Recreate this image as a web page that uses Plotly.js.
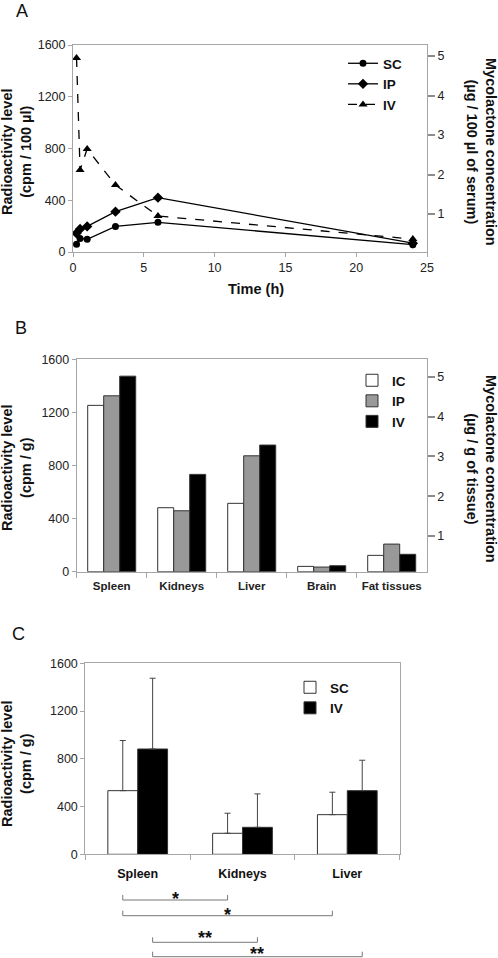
<!DOCTYPE html>
<html>
<head>
<meta charset="utf-8">
<script src="https://cdn.plot.ly/plotly-3.0.1.min.js"></script>
<style>
  html, body { margin: 0; padding: 0; background: #fff; }
  #chart { width: 498px; height: 958px; }
</style>
</head>
<body>
<div id="chart"></div>
<script>
// ---------- Panel A data ----------
const timeH = [0.25, 0.5, 1, 3, 6, 24];
const scSerum = [60, 105, 98, 198, 229, 57];
const ipSerum = [145, 178, 198, 312, 420, 68];
const ivSerum = [1500, 634, 796, 518, 278, 100];

// ---------- Panel B data ----------
const organsB = ["Spleen", "Kidneys", "Liver", "Brain", "Fat tissues"];
const icTissue = [1253, 482, 515, 40, 123];
const ipTissue = [1325, 459, 873, 35, 208];
const ivTissue = [1473, 733, 954, 45, 131];

// ---------- Panel C data ----------
const organsC = ["Spleen", "Kidneys", "Liver"];
const scMean = [533, 176, 332];
const scErr = [420, 168, 188];
const ivMean = [882, 226, 533];
const ivErr = [593, 280, 255];

// significance pairs: [series, fromOrganIndex, toOrganIndex, label]
const sigSeries = ["SC", "SC", "IV", "IV"];
const sigFrom = [0, 0, 0, 0];
const sigTo = [1, 2, 1, 2];
const sigLabel = ["*", "*", "**", "**"];

const FONT = "Liberation Sans, Arial, sans-serif";
const W = 498, H = 958;
const px = v => v / W;
const py = v => 1 - v / H;

const frameCol = "#a6a6a6";
const tickFont = {family: FONT, size: 12.5, color: "#222"};

const bargapC = 0.43;
const barW = (1 - bargapC) / 2;
const offs = {SC: -barW / 2, IV: barW / 2};

const traces = [
  {x: timeH, y: scSerum, name: "SC", type: "scatter", mode: "lines+markers",
   xaxis: "x", yaxis: "y", legend: "legend",
   line: {color: "#000", width: 1.3}, marker: {symbol: "circle", size: 7, color: "#000"}},
  {x: timeH, y: ipSerum, name: "IP", type: "scatter", mode: "lines+markers",
   xaxis: "x", yaxis: "y", legend: "legend",
   line: {color: "#000", width: 1.3}, marker: {symbol: "diamond", size: 8, color: "#000"}},
  {x: timeH, y: ivSerum, name: "IV", type: "scatter", mode: "lines+markers",
   xaxis: "x", yaxis: "y", legend: "legend",
   line: {color: "#000", width: 1.3, dash: "dash"}, marker: {symbol: "triangle-up", size: 8, color: "#000"}},
  // empty helper traces so the secondary (mycolactone) axes are drawn
  {x: [], y: [], type: "scatter", xaxis: "x", yaxis: "y2", showlegend: false, hoverinfo: "skip"},

  {x: organsB, y: icTissue, name: "IC", type: "bar", xaxis: "x2", yaxis: "y3", legend: "legend2",
   marker: {color: "#ffffff", line: {color: "#333", width: 1}}},
  {x: organsB, y: ipTissue, name: "IP", type: "bar", xaxis: "x2", yaxis: "y3", legend: "legend2",
   marker: {color: "#999999", line: {color: "#333", width: 1}}},
  {x: organsB, y: ivTissue, name: "IV", type: "bar", xaxis: "x2", yaxis: "y3", legend: "legend2",
   marker: {color: "#000000", line: {color: "#333", width: 1}}},
  {x: [], y: [], type: "scatter", xaxis: "x2", yaxis: "y4", showlegend: false, hoverinfo: "skip"},

  {x: organsC, y: scMean, name: "SC", type: "bar", xaxis: "x3", yaxis: "y5", legend: "legend3",
   offset: -barW, width: barW,
   marker: {color: "#ffffff", line: {color: "#333", width: 1}},
   error_y: {type: "data", array: scErr, arrayminus: scMean.map(() => 0), symmetric: false,
             color: "#444", thickness: 1, width: 3}},
  {x: organsC, y: ivMean, name: "IV", type: "bar", xaxis: "x3", yaxis: "y5", legend: "legend3",
   offset: 0, width: barW,
   marker: {color: "#000000", line: {color: "#333", width: 1}},
   error_y: {type: "data", array: ivErr, arrayminus: ivMean.map(() => 0), symmetric: false,
             color: "#444", thickness: 1, width: 3}}
];

const commonAxis = {
  showgrid: false, zeroline: false, showline: true, mirror: true,
  linecolor: frameCol, linewidth: 1, ticks: "outside", tickcolor: frameCol,
  ticklen: 4, tickfont: tickFont, fixedrange: true
};
const rightAxis = {
  side: "right", tickvals: [1, 2, 3, 4, 5],
  showgrid: false, zeroline: false, showline: false, ticks: "outside", ticklen: 7, tickwidth: 2,
  tickcolor: "#8c8c8c", tickfont: tickFont, fixedrange: true
};

const dA = {x: [px(73), px(427)], y: [py(252), py(45)]};
const dB = {x: [px(76.7), px(426.7)], y: [py(571.7), py(359.3)]};
const dC = {x: [px(85.3), px(399.7)], y: [py(854.3), py(663.3)]};

// bracket rows (pixel y) and star rows
const bracketY = [900, 915.7, 942.3, 956.7];
const starTop = [888, 903.5, 927, 943];

const shapes = [];
const annotations = [];
for (let i = 0; i < sigLabel.length; i++) {
  const x0 = sigFrom[i] + offs[sigSeries[i]];
  const x1 = sigTo[i] + offs[sigSeries[i]];
  const yb = py(bracketY[i]), yt = py(bracketY[i] - 5);
  const ln = {color: "#777", width: 1};
  shapes.push({type: "line", xref: "x3", yref: "paper", x0: x0, x1: x1, y0: yb, y1: yb, line: ln});
  shapes.push({type: "line", xref: "x3", yref: "paper", x0: x0, x1: x0, y0: yb, y1: yt, line: ln});
  shapes.push({type: "line", xref: "x3", yref: "paper", x0: x1, x1: x1, y0: yb, y1: yt, line: ln});
  annotations.push({xref: "x3", yref: "paper", x: (x0 + x1) / 2, y: py(starTop[i]), yanchor: "top",
    text: "<b>" + sigLabel[i] + "</b>", showarrow: false, borderpad: 0, height: 13, valign: "top",
    font: {family: FONT, size: 18, color: "#111"}});
}

function title(text, x, y, angle, size) {
  annotations.push({xref: "paper", yref: "paper", x: px(x), y: py(y), xanchor: "center", yanchor: "middle",
    text: text, textangle: angle, showarrow: false, font: {family: FONT, size: size || 14.5, color: "#111"}});
}
title("A", 22, 11, 0, 18);
title("B", 21, 328, 0, 18);
title("C", 18, 634, 0, 18);
title("<b>Radioactivity level</b><br><b>(cpm / 100 µl)</b>", 16, 152, -90);
title("<b>Mycolactone concentration</b><br><b>(µg / 100 µl of serum)</b>", 482, 152, 90);
title("<b>Time (h)</b>", 256, 289, 0);
title("<b>Radioactivity level</b><br><b>(cpm / g)</b>", 16, 468, -90);
title("<b>Mycolactone concentration</b><br><b>(µg / g of tissue)</b>", 482, 469, 90);
title("<b>Radioactivity level</b><br><b>(cpm / g)</b>", 16, 764, -90);

const legendBase = {bgcolor: "rgba(0,0,0,0)", borderwidth: 0, xanchor: "left", yanchor: "middle",
  font: {family: FONT, size: 13.5, color: "#111", weight: "bold"}, tracegroupgap: 0, itemwidth: 30};

const layout = {
  width: W, height: H, margin: {l: 0, r: 0, t: 0, b: 0},
  paper_bgcolor: "#fff", plot_bgcolor: "rgba(0,0,0,0)",
  font: {family: FONT},
  showlegend: true,
  xaxis: Object.assign({}, commonAxis, {domain: dA.x, anchor: "y", range: [0, 25], tickvals: [0, 5, 10, 15, 20, 25]}),
  yaxis: Object.assign({}, commonAxis, {domain: dA.y, anchor: "x", range: [0, 1600], tickvals: [0, 400, 800, 1200, 1600]}),
  yaxis2: Object.assign({}, rightAxis, {overlaying: "y", anchor: "x", range: [0.04, 5.28]}),

  xaxis2: Object.assign({}, commonAxis, {domain: dB.x, anchor: "y3", type: "category", tickson: "boundaries",
    ticklen: 5, ticklabelstandoff: 3, tickfont: {family: FONT, size: 11.5, color: "#222", weight: "bold"}}),
  yaxis3: Object.assign({}, commonAxis, {domain: dB.y, anchor: "x2", range: [0, 1600], tickvals: [0, 400, 800, 1200, 1600]}),
  yaxis4: Object.assign({}, rightAxis, {overlaying: "y3", anchor: "x2", range: [0.103, 5.437]}),

  xaxis3: Object.assign({}, commonAxis, {domain: dC.x, anchor: "y5", type: "category", tickson: "boundaries",
    ticklen: 5, ticklabelstandoff: 8, tickfont: {family: FONT, size: 12.5, color: "#111", weight: "bold"}}),
  yaxis5: Object.assign({}, commonAxis, {domain: dC.y, anchor: "x3", range: [0, 1600], tickvals: [0, 400, 800, 1200, 1600]}),

  barmode: "group",
  bargap: 0.314,
  bargroupgap: 0,

  legend: Object.assign({}, legendBase, {x: px(343), y: py(84)}),
  legend2: Object.assign({}, legendBase, {x: px(352), y: py(401)}),
  legend3: Object.assign({}, legendBase, {x: px(290), y: py(698)}),

  shapes: shapes,
  annotations: annotations
};

Plotly.newPlot("chart", traces, layout, {staticPlot: true, displayModeBar: false});
</script>
</body>
</html>
